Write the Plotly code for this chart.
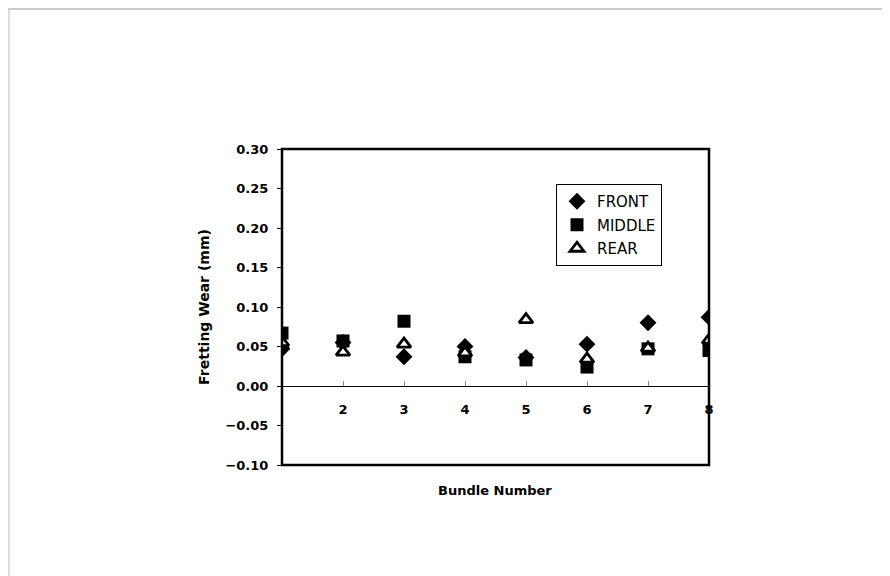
import plotly.graph_objects as go

bundles = [1, 2, 3, 4, 5, 6, 7, 8]
front = [0.047, 0.055, 0.037, 0.050, 0.036, 0.053, 0.080, 0.087]
middle = [0.067, 0.057, 0.082, 0.037, 0.033, 0.024, 0.047, 0.045]
rear = [0.055, 0.043, 0.053, 0.042, 0.084, 0.034, 0.048, 0.058]
x_tick_vals = [2, 3, 4, 5, 6, 7, 8]
x_tick_text = ["2", "3", "4", "5", "6", "7", "8"]

font = "DejaVu Sans, Liberation Sans, Arial, sans-serif"

# plot area (screen px): x 282..709, y 149..465 ; page has an 8px body offset
L, T = 274, 141
W, H = 427, 316

fig = go.Figure()
fig.add_trace(go.Scatter(x=bundles, y=front, mode="markers", name="FRONT",
                         legendgroup="f",
                         marker=dict(symbol="diamond", size=13, color="black")))
fig.add_trace(go.Scatter(x=bundles, y=middle, mode="markers", name="MIDDLE",
                         legendgroup="m",
                         marker=dict(symbol="square", size=13, color="black")))
fig.add_trace(go.Scatter(x=bundles, y=rear, mode="markers", name="REAR",
                         legendgroup="r",
                         marker=dict(symbol="triangle-up", size=12, color="white",
                                     line=dict(color="black", width=2.8))))

def px_x(sx):
    return (sx - 8 - L) / W

def px_y(sy):
    return (T + H - (sy - 8)) / H

fig.update_layout(
    width=890, height=576,
    margin=dict(l=L, r=890 - L - W, t=T, b=576 - T - H),
    paper_bgcolor="white", plot_bgcolor="white",
    font=dict(family=font, size=12, color="black"),
    showlegend=True,
    legend=dict(x=px_x(556), y=px_y(184), xanchor="left", yanchor="top",
                bordercolor="black", borderwidth=1, bgcolor="white",
                font=dict(size=15, family=font), itemwidth=30,
                tracegroupgap=1),
    xaxis=dict(range=[1, 8], anchor="free", position=0.25,
               tickvals=x_tick_vals, ticktext=x_tick_text,
               showgrid=False, zeroline=False, showline=True,
               linecolor="black", linewidth=1,
               ticks="inside", ticklen=5, tickcolor="#888",
               ticklabelstandoff=11,
               tickfont=dict(size=13, family=font, weight="bold")),
    yaxis=dict(range=[-0.1, 0.3], dtick=0.05, tickformat=".2f",
               showgrid=False, zeroline=False, showline=False,
               ticks="outside", ticklen=4, tickcolor="black",
               ticklabelstandoff=6,
               tickfont=dict(size=13, family=font, weight="bold"),
               title=dict(text="Fretting Wear (mm)", standoff=12,
                          font=dict(size=14, family=font, weight="bold"))),
    shapes=[
        dict(type="rect", xref="paper", yref="paper", x0=0, x1=1, y0=0, y1=1,
             line=dict(color="black", width=2.5)),
        dict(type="line", xref="paper", yref="paper",
             x0=px_x(8), x1=px_x(890), y0=px_y(9), y1=px_y(9),
             line=dict(color="#999", width=1)),
        dict(type="line", xref="paper", yref="paper",
             x0=px_x(9), x1=px_x(9), y0=px_y(9), y1=px_y(576),
             line=dict(color="#bbb", width=1)),
    ],
    annotations=[
        dict(text="Bundle Number", xref="paper", yref="paper",
             x=px_x(495), y=px_y(490), showarrow=False,
             xanchor="center", yanchor="middle",
             font=dict(size=13, family=font, weight="bold")),
    ],
)

fig.write_html("out.html")
